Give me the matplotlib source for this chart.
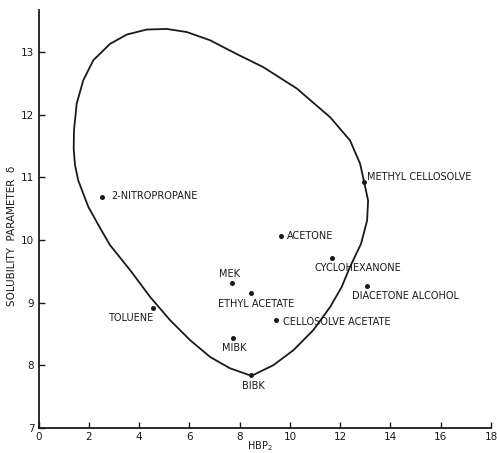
import numpy as np
import matplotlib
matplotlib.use("Agg")
import matplotlib.pyplot as plt

# solvents: HBP (x) and solubility parameter delta (y)
solvents = ["2-NITROPROPANE", "TOLUENE", "MEK", "ETHYL ACETATE", "MIBK", "BIBK",
            "CELLOSOLVE ACETATE", "ACETONE", "CYCLOHEXANONE", "DIACETONE ALCOHOL",
            "METHYL CELLOSOLVE"]
hbp = [2.51, 4.57, 7.68, 8.46, 7.75, 8.45, 9.45, 9.65, 11.66, 13.05, 12.95]
delta = [10.69, 8.91, 9.31, 9.15, 8.44, 7.84, 8.72, 10.06, 9.71, 9.26, 10.93]

# label anchor (data coords) and alignment for each solvent
label_x = [2.89, 3.66, 7.60, 7.13, 7.29, 8.08, 9.71, 9.87, 10.96, 12.46, 13.08]
label_y = [10.70, 8.75, 9.46, 8.97, 8.28, 7.67, 8.69, 10.06, 9.56, 9.11, 11.01]
label_ha = ["left", "center", "center", "left", "left", "left", "left", "left",
            "left", "left", "left"]

# solubility envelope
env_x = [8.47, 7.62, 6.83, 6.03, 5.23, 4.44, 3.64, 2.84, 2.45, 1.98, 1.58, 1.45, 1.40,
         1.41, 1.52, 1.78, 2.18, 2.84, 3.51, 4.30, 5.10, 5.90, 6.82, 7.88, 8.94,
         10.27, 11.60, 12.39, 12.79, 12.95, 13.11, 13.07, 12.83, 12.39, 12.06,
         11.60, 10.93, 10.14, 9.34, 8.47]
env_y = [7.83, 7.95, 8.13, 8.40, 8.72, 9.09, 9.52, 9.92, 10.19, 10.53, 10.95, 11.20, 11.45,
         11.75, 12.18, 12.55, 12.87, 13.13, 13.28, 13.36, 13.37, 13.32, 13.19, 12.97,
         12.76, 12.42, 11.96, 11.59, 11.22, 10.93, 10.63, 10.31, 9.94, 9.57, 9.25,
         8.93, 8.56, 8.24, 8.00, 7.83]

x_ticks = list(range(0, 19, 2))
y_ticks = list(range(7, 14))

ink = "#1a1a1a"

fig = plt.figure(figsize=(4.97, 4.53), dpi=100)
ax = fig.add_axes([0.0775, 0.0556, 0.9105, 0.922])

ax.plot(env_x, env_y, color=ink, lw=1.3, solid_joinstyle="round")
ax.plot(hbp, delta, "o", color=ink, ms=3.6, mec="none")

for name, lx, ly, ha in zip(solvents, label_x, label_y, label_ha):
    ax.text(lx, ly, name, fontsize=7, color=ink, ha=ha, va="center")

ax.set_xlim(0, 18)
ax.set_ylim(7, 13.67)
ax.set_xticks(x_ticks)
ax.set_yticks(y_ticks)
ax.tick_params(direction="in", length=4, width=1, colors=ink, labelsize=7.5, pad=3)

for side in ["top", "right"]:
    ax.spines[side].set_visible(False)
for side in ["left", "bottom"]:
    ax.spines[side].set_linewidth(1.3)
    ax.spines[side].set_color(ink)

# x label sits a little left of centre in the original
ax.text((260 - 38.5) / (491 - 38.5), (427.8 - 446) / 417.8, "HBP$_2$",
        transform=ax.transAxes, fontsize=7, color=ink, ha="center", va="center")
ax.set_ylabel("SOLUBILITY  PARAMETER  δ", fontsize=7.5, color=ink)
ax.yaxis.set_label_coords(-0.047, (427.8 - 236) / 417.8)

fig.savefig("out.png", dpi=100)
